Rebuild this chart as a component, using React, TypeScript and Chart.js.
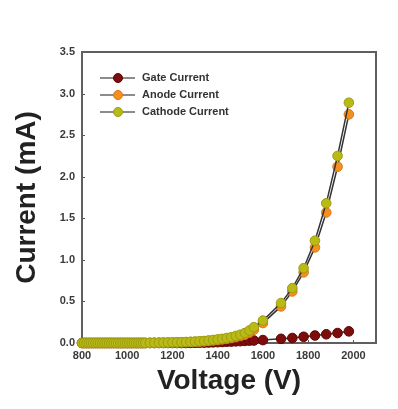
import React, { useEffect, useRef } from 'react';
import { Chart, registerables } from 'chart.js';

Chart.register(...registerables);

// Voltage (V)
const voltage = [
  800, 810, 820, 830, 840, 850, 860, 870, 880, 890, 900, 910, 920, 930, 940,
  950, 960, 970, 980, 990, 1000, 1010, 1020, 1030, 1040, 1050, 1060, 1070, 1080,
  1100, 1120, 1140, 1160, 1180, 1200, 1220, 1240, 1260, 1280, 1300, 1320, 1340,
  1360, 1380, 1400, 1420, 1440, 1460, 1480, 1500, 1520, 1540, 1560,
  1600, 1680, 1730, 1780, 1830, 1880, 1930, 1980,
];

// Current (mA)
const gateCurrent = [
  0, 0, 0, 0, 0, 0, 0, 0, 0, 0, 0, 0, 0, 0, 0,
  0, 0, 0, 0, 0, 0, 0, 0, 0, 0, 0, 0, 0, 0,
  0, 0, 0, 0, 0, 0, 0, 0, 0, 0.001, 0.002, 0.003, 0.004,
  0.006, 0.008, 0.01, 0.012, 0.015, 0.017, 0.02, 0.022, 0.025, 0.028, 0.03,
  0.035, 0.05, 0.06, 0.075, 0.09, 0.105, 0.12, 0.14,
];

const anodeCurrent = [
  0, 0, 0, 0, 0, 0, 0, 0, 0, 0, 0, 0, 0, 0, 0,
  0, 0, 0, 0, 0, 0, 0, 0, 0, 0, 0, 0, 0, 0,
  0.001, 0.002, 0.003, 0.004, 0.005, 0.006, 0.007, 0.008, 0.01, 0.012, 0.014, 0.017, 0.02,
  0.025, 0.03, 0.036, 0.043, 0.05, 0.06, 0.07, 0.085, 0.1, 0.125, 0.16,
  0.24, 0.44, 0.62, 0.85, 1.15, 1.57, 2.12, 2.75,
];

const cathodeCurrent = [
  0, 0, 0, 0, 0, 0, 0, 0, 0, 0, 0, 0, 0, 0, 0,
  0, 0, 0, 0, 0, 0, 0, 0, 0, 0, 0, 0, 0, 0,
  0.002, 0.003, 0.004, 0.005, 0.006, 0.007, 0.008, 0.01, 0.012, 0.014, 0.017, 0.02, 0.024,
  0.03, 0.036, 0.043, 0.05, 0.06, 0.07, 0.085, 0.1, 0.12, 0.15, 0.19,
  0.27, 0.48, 0.66, 0.9, 1.23, 1.68, 2.25, 2.89,
];

const seriesLabels = ['Gate Current', 'Anode Current', 'Cathode Current'];
const xTickValues = [800, 1000, 1200, 1400, 1600, 1800, 2000];
const yTickValues = [0, 0.5, 1.0, 1.5, 2.0, 2.5, 3.0, 3.5];

const seriesFill = ['#7d0d0d', '#f5901e', '#b9ba16'];
const seriesEdge = ['#5e0505', '#d9761a', '#9c9c10'];

const FONT = '"Liberation Sans", Arial, sans-serif';

const framePlugin = {
  id: 'frame',
  beforeDatasetsDraw(chart: any) {
    const { ctx, chartArea: a, scales } = chart;
    ctx.save();
    ctx.strokeStyle = '#555';
    ctx.lineWidth = 1;
    yTickValues.forEach((v) => {
      const py = Math.round(scales.y.getPixelForValue(v)) + 0.5;
      ctx.beginPath();
      ctx.moveTo(a.left, py);
      ctx.lineTo(a.left + 3, py);
      ctx.stroke();
    });
    xTickValues.forEach((v) => {
      const px = Math.round(scales.x.getPixelForValue(v)) + 0.5;
      ctx.beginPath();
      ctx.moveTo(px, a.bottom);
      ctx.lineTo(px, a.bottom - 3);
      ctx.stroke();
    });
    ctx.lineWidth = 2;
    ctx.strokeStyle = '#5f5f5f';
    ctx.strokeRect(a.left, a.top, a.right - a.left, a.bottom - a.top);
    ctx.restore();
  },
};

const legendPlugin = {
  id: 'insideLegend',
  afterDraw(chart: any) {
    const { ctx, chartArea: a } = chart;
    ctx.save();
    const x0 = a.left + 18;
    const rowY = [a.top + 26, a.top + 43, a.top + 60];
    seriesLabels.forEach((label, i) => {
      const y = rowY[i];
      ctx.strokeStyle = '#666';
      ctx.lineWidth = 1.5;
      ctx.beginPath();
      ctx.moveTo(x0, y);
      ctx.lineTo(x0 + 35, y);
      ctx.stroke();
      ctx.beginPath();
      ctx.arc(x0 + 18, y, 4.5, 0, Math.PI * 2);
      ctx.fillStyle = seriesFill[i];
      ctx.fill();
      ctx.strokeStyle = seriesEdge[i];
      ctx.lineWidth = 1;
      ctx.stroke();
      ctx.fillStyle = '#333';
      ctx.font = `bold 11px ${FONT}`;
      ctx.textBaseline = 'middle';
      ctx.textAlign = 'left';
      ctx.fillText(label, x0 + 42, y);
    });
    ctx.restore();
  },
};

export default function App() {
  const ref = useRef<HTMLCanvasElement | null>(null);

  useEffect(() => {
    if (!ref.current) return;
    const series = [gateCurrent, anodeCurrent, cathodeCurrent];
    const chart = new Chart(ref.current, {
      type: 'line',
      data: {
        datasets: series.map((vals, i) => ({
          label: seriesLabels[i],
          data: voltage.map((v, j) => ({ x: v, y: vals[j] })),
          borderColor: '#333',
          borderWidth: 1.5,
          pointRadius: 4.8,
          pointBorderWidth: 1,
          pointBackgroundColor: seriesFill[i],
          pointBorderColor: seriesEdge[i],
          fill: false,
          tension: 0,
          clip: false as any,
          order: 2 - i,
        })),
      },
      options: {
        animation: false,
        responsive: true,
        maintainAspectRatio: false,
        layout: { padding: { left: 0, right: 22, top: 52, bottom: 0 } },
        plugins: {
          legend: { display: false },
          tooltip: { enabled: false },
        },
        scales: {
          x: {
            type: 'linear',
            min: 800,
            max: 2100,
            afterFit: (s: any) => {
              s.height = 66;
            },
            afterBuildTicks: (s: any) => {
              s.ticks = xTickValues.map((v) => ({ value: v }));
            },
            grid: { display: false, drawTicks: false },
            border: { display: false },
            ticks: {
              padding: 6,
              color: '#3a3a3a',
              font: { family: FONT, size: 11, weight: 'bold' },
              maxRotation: 0,
              autoSkip: false,
              callback: (v: any) => String(v),
            },
            title: {
              display: true,
              text: 'Voltage (V)',
              color: '#222',
              font: { family: FONT, size: 28, weight: 'bold' },
              padding: { top: 0, bottom: 11 },
            },
          },
          y: {
            type: 'linear',
            min: 0,
            max: 3.5,
            afterFit: (s: any) => {
              s.width = 82;
            },
            afterBuildTicks: (s: any) => {
              s.ticks = yTickValues.map((v) => ({ value: v }));
            },
            grid: { display: false, drawTicks: false },
            border: { display: false },
            ticks: {
              padding: 7,
              color: '#3a3a3a',
              font: { family: FONT, size: 11, weight: 'bold' },
              callback: (v: any) => Number(v).toFixed(1),
            },
            title: {
              display: true,
              text: 'Current (mA)',
              color: '#222',
              font: { family: FONT, size: 28, weight: 'bold' },
              padding: { top: 10, bottom: 0 },
            },
          },
        },
      },
      plugins: [framePlugin, legendPlugin],
    });
    return () => chart.destroy();
  }, []);

  return (
    <div style={{ position: 'fixed', left: 0, top: 0, width: 398, height: 409, background: '#fff' }}>
      <canvas ref={ref} />
    </div>
  );
}
